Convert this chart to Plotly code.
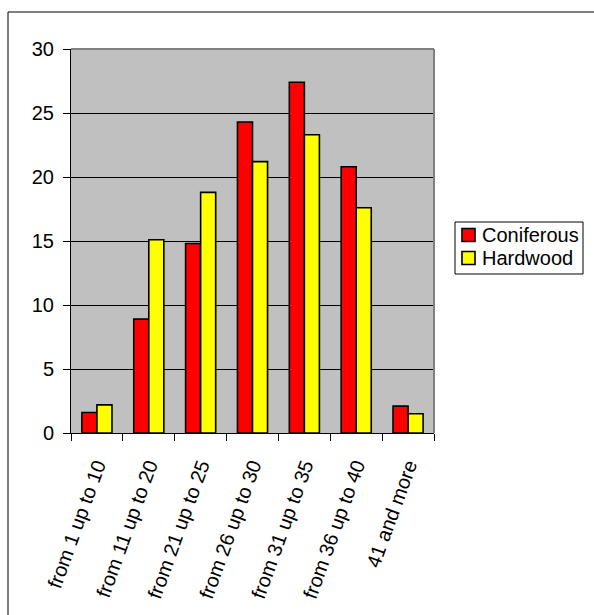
import plotly.graph_objects as go

categories = ["from 1 up to 10", "from 11 up to 20", "from 21 up to 25",
              "from 26 up to 30", "from 31 up to 35", "from 36 up to 40",
              "41 and more"]
coniferous = [1.6, 8.9, 14.8, 24.3, 27.4, 20.8, 2.1]
hardwood = [2.2, 15.1, 18.8, 21.2, 23.3, 17.6, 1.5]
y_ticks = [0, 5, 10, 15, 20, 25, 30]

series = [("Coniferous", coniferous, "#FF0000"),
          ("Hardwood", hardwood, "#FFFF00")]

W, H = 594, 615
L, R, T, B = 71, 434, 49, 433  # plot area in pixels
FONT = "Liberation Sans, Arial, sans-serif"


def px_x(p):
    return (p - L) / (R - L)


def px_y(p):
    return (B - p) / (B - T)


fig = go.Figure()
for name, vals, color in series:
    fig.add_trace(go.Bar(name=name, x=categories, y=vals, showlegend=False,
                         marker=dict(color=color,
                                     line=dict(color="black", width=1.6))))

shapes = [
    # gray frame on the top and right of the plot area
    dict(type="line", xref="paper", yref="paper", x0=0, x1=1, y0=1, y1=1,
         line=dict(color="#808080", width=2)),
    dict(type="line", xref="paper", yref="paper", x0=1, x1=1, y0=0, y1=1,
         line=dict(color="#808080", width=2)),
    # outer chart border
    dict(type="rect", xref="paper", yref="paper",
         x0=px_x(8), x1=px_x(W + 20), y0=px_y(H + 20), y1=px_y(12),
         line=dict(color="black", width=1), layer="below"),
    # legend box
    dict(type="rect", xref="paper", yref="paper",
         x0=px_x(455), x1=px_x(583), y0=px_y(274), y1=px_y(222),
         line=dict(color="black", width=1), fillcolor="white"),
]
annotations = []

# legend entries: swatch + label
row_y = [235, 258]
for (name, _, color), cy in zip(series, row_y):
    shapes.append(dict(type="rect", xref="paper", yref="paper",
                       x0=px_x(462), x1=px_x(475), y0=px_y(cy + 6.5), y1=px_y(cy - 6.5),
                       line=dict(color="black", width=1.6), fillcolor=color))
    annotations.append(dict(xref="paper", yref="paper", x=px_x(480), y=px_y(cy),
                            xanchor="left", yanchor="middle", showarrow=False,
                            text=name, font=dict(size=20, family=FONT, color="black")))

fig.update_layout(
    width=W, height=H,
    margin=dict(l=L, r=W - R, t=T, b=H - B, pad=0),
    paper_bgcolor="white",
    plot_bgcolor="#C0C0C0",
    barmode="group", bargap=0.42, bargroupgap=0,
    font=dict(family=FONT, size=20, color="black"),
    xaxis=dict(type="category", tickangle=-70, showgrid=False,
               ticks="outside", ticklen=7, tickcolor="black", tickson="boundaries",
               showline=True, linecolor="black", linewidth=1,
               ticklabelstandoff=12, tickfont=dict(size=20)),
    yaxis=dict(range=[0, 30], tickvals=y_ticks, ticks="outside", ticklen=7,
               tickcolor="black", showline=True, linecolor="black", linewidth=1,
               showgrid=True, gridcolor="black", gridwidth=1, zeroline=False,
               ticklabelstandoff=5, tickfont=dict(size=20)),
    shapes=shapes,
    annotations=annotations,
)

fig.write_html("out.html")
